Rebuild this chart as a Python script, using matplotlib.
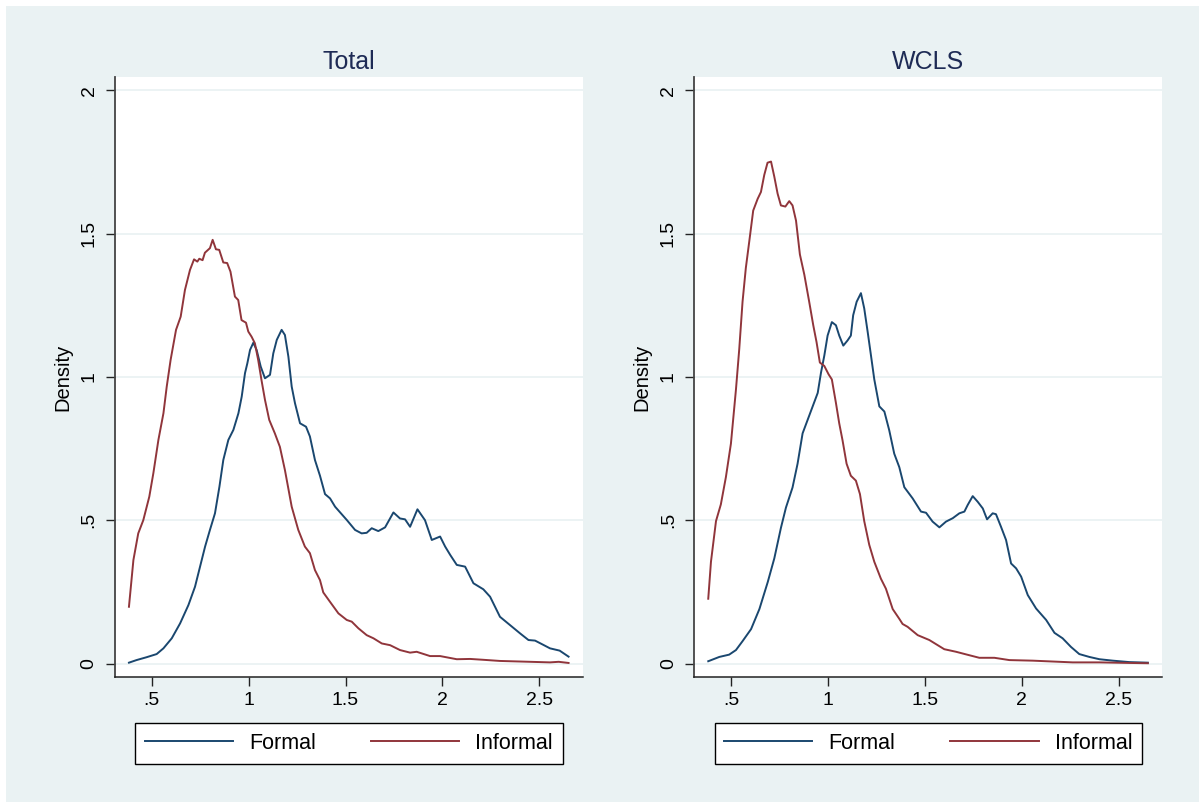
import matplotlib

matplotlib.use("Agg")
import matplotlib.pyplot as plt
from matplotlib.patches import Rectangle

# Kernel density curves (x = log wage ratio-ish, y = density)
total_formal_x = [0.382, 0.421, 0.473, 0.525, 0.560, 0.603, 0.646, 0.689, 0.723, 0.749,
                  0.775, 0.800, 0.826, 0.849, 0.869, 0.895, 0.921, 0.947, 0.964, 0.981,
                  0.993, 1.007, 1.024, 1.041, 1.062, 1.084, 1.110, 1.127, 1.145, 1.170,
                  1.187, 1.205, 1.222, 1.239, 1.265, 1.296, 1.316, 1.342, 1.368, 1.394,
                  1.420, 1.446, 1.506, 1.549, 1.583, 1.609, 1.635, 1.669, 1.704, 1.747,
                  1.781, 1.807, 1.833, 1.871, 1.910, 1.945, 1.988, 2.014, 2.040, 2.074,
                  2.117, 2.160, 2.211, 2.246, 2.297, 2.349, 2.401, 2.444, 2.478, 2.521,
                  2.555, 2.605, 2.651]
total_formal_y = [0.003, 0.012, 0.022, 0.033, 0.053, 0.088, 0.140, 0.204, 0.268, 0.338,
                  0.408, 0.466, 0.524, 0.617, 0.710, 0.780, 0.815, 0.873, 0.931, 1.013,
                  1.047, 1.094, 1.119, 1.094, 1.036, 0.995, 1.007, 1.082, 1.129, 1.164,
                  1.146, 1.070, 0.966, 0.908, 0.838, 0.826, 0.792, 0.710, 0.655, 0.591,
                  0.576, 0.547, 0.501, 0.466, 0.454, 0.456, 0.472, 0.462, 0.475, 0.527,
                  0.506, 0.503, 0.477, 0.538, 0.500, 0.431, 0.443, 0.408, 0.379, 0.344,
                  0.338, 0.280, 0.259, 0.233, 0.163, 0.134, 0.105, 0.082, 0.080, 0.065,
                  0.053, 0.045, 0.024]

total_informal_x = [0.382, 0.405, 0.430, 0.456, 0.487, 0.508, 0.534, 0.560, 0.577, 0.597,
                    0.625, 0.649, 0.671, 0.697, 0.718, 0.735, 0.745, 0.762, 0.774, 0.800,
                    0.814, 0.831, 0.848, 0.869, 0.889, 0.906, 0.929, 0.946, 0.963, 0.986,
                    0.998, 1.015, 1.032, 1.049, 1.066, 1.084, 1.106, 1.135, 1.161, 1.187,
                    1.222, 1.256, 1.290, 1.316, 1.342, 1.368, 1.385, 1.420, 1.463, 1.506,
                    1.532, 1.566, 1.609, 1.644, 1.687, 1.730, 1.781, 1.833, 1.867, 1.936,
                    1.988, 2.074, 2.143, 2.211, 2.297, 2.401, 2.555, 2.600, 2.651]
total_informal_y = [0.198, 0.361, 0.454, 0.500, 0.582, 0.664, 0.780, 0.873, 0.966, 1.059,
                    1.164, 1.210, 1.303, 1.373, 1.410, 1.402, 1.412, 1.407, 1.433, 1.449,
                    1.478, 1.445, 1.443, 1.399, 1.397, 1.367, 1.280, 1.268, 1.198, 1.189,
                    1.158, 1.140, 1.117, 1.059, 0.989, 0.920, 0.850, 0.803, 0.756, 0.675,
                    0.547, 0.466, 0.408, 0.385, 0.326, 0.291, 0.248, 0.215, 0.175, 0.152,
                    0.146, 0.123, 0.099, 0.088, 0.070, 0.064, 0.047, 0.038, 0.041, 0.026,
                    0.026, 0.015, 0.016, 0.013, 0.009, 0.007, 0.004, 0.006, 0.002]

wcls_formal_x = [0.382, 0.439, 0.490, 0.525, 0.559, 0.603, 0.646, 0.689, 0.723, 0.757,
                 0.783, 0.817, 0.843, 0.869, 0.895, 0.921, 0.947, 0.964, 0.981, 0.998,
                 1.020, 1.041, 1.058, 1.079, 1.101, 1.118, 1.130, 1.148, 1.170, 1.187,
                 1.205, 1.222, 1.239, 1.265, 1.291, 1.316, 1.342, 1.368, 1.394, 1.437,
                 1.480, 1.506, 1.540, 1.575, 1.609, 1.644, 1.678, 1.704, 1.721, 1.747,
                 1.773, 1.799, 1.821, 1.850, 1.867, 1.893, 1.919, 1.945, 1.971, 1.997,
                 2.031, 2.074, 2.126, 2.169, 2.211, 2.254, 2.297, 2.349, 2.401, 2.470,
                 2.555, 2.651]
wcls_formal_y = [0.008, 0.023, 0.031, 0.047, 0.078, 0.120, 0.190, 0.284, 0.367, 0.473,
                 0.544, 0.614, 0.697, 0.803, 0.850, 0.897, 0.944, 1.015, 1.074, 1.144,
                 1.191, 1.180, 1.144, 1.109, 1.127, 1.144, 1.215, 1.262, 1.292, 1.239,
                 1.156, 1.074, 0.991, 0.897, 0.879, 0.814, 0.732, 0.685, 0.615, 0.576,
                 0.530, 0.526, 0.495, 0.475, 0.495, 0.507, 0.524, 0.530, 0.553, 0.584,
                 0.564, 0.541, 0.503, 0.524, 0.521, 0.477, 0.431, 0.349, 0.332, 0.303,
                 0.239, 0.192, 0.152, 0.107, 0.088, 0.058, 0.033, 0.023, 0.015, 0.010,
                 0.005, 0.003]

wcls_informal_x = [0.382, 0.396, 0.422, 0.447, 0.473, 0.499, 0.525, 0.542, 0.559, 0.576,
                   0.594, 0.614, 0.637, 0.654, 0.671, 0.688, 0.706, 0.723, 0.740, 0.757,
                   0.780, 0.800, 0.817, 0.835, 0.855, 0.878, 0.903, 0.924, 0.941, 0.958,
                   0.981, 1.003, 1.020, 1.041, 1.058, 1.075, 1.096, 1.118, 1.144, 1.165,
                   1.187, 1.213, 1.239, 1.273, 1.299, 1.334, 1.368, 1.385, 1.411, 1.463,
                   1.523, 1.600, 1.661, 1.712, 1.781, 1.859, 1.936, 2.057, 2.160, 2.263,
                   2.401, 2.555, 2.651]
wcls_informal_y = [0.226, 0.355, 0.497, 0.555, 0.650, 0.767, 0.956, 1.097, 1.262, 1.380,
                   1.474, 1.580, 1.621, 1.645, 1.704, 1.747, 1.751, 1.698, 1.639, 1.598,
                   1.594, 1.613, 1.598, 1.545, 1.427, 1.356, 1.262, 1.180, 1.121, 1.050,
                   1.038, 1.009, 0.991, 0.909, 0.838, 0.779, 0.697, 0.655, 0.638, 0.591,
                   0.497, 0.414, 0.355, 0.296, 0.261, 0.190, 0.156, 0.138, 0.128, 0.099,
                   0.082, 0.050, 0.041, 0.032, 0.020, 0.020, 0.012, 0.010, 0.007, 0.004,
                   0.004, 0.002, 0.001]

panel_titles = ["Total", "WCLS"]
series_labels = ["Formal", "Informal"]
x_ticks = [0.5, 1.0, 1.5, 2.0, 2.5]
x_tick_labels = [".5", "1", "1.5", "2", "2.5"]
y_ticks = [0.0, 0.5, 1.0, 1.5, 2.0]
y_tick_labels = ["0", ".5", "1", "1.5", "2"]

BG = "#EAF2F3"
NAVY = "#1A476F"
MAROON = "#90353B"
TITLE_COLOR = "#1E2B55"

plt.rcParams["font.family"] = ["Liberation Sans", "DejaVu Sans"]

W, H = 1199, 802
fig = plt.figure(figsize=(W / 100, H / 100), dpi=100)
fig.patch.set_facecolor("white")
fig.add_artist(Rectangle((6 / W, 0), 1, 1 - 6 / H, transform=fig.transFigure,
                         facecolor=BG, edgecolor="none", zorder=-10))

panels = [
    (panel_titles[0], total_formal_x, total_formal_y, total_informal_x, total_informal_y, 115),
    (panel_titles[1], wcls_formal_x, wcls_formal_y, wcls_informal_x, wcls_informal_y, 694.3),
]

# plot region in pixels: width, bottom edge, top edge
ax_w, ax_bottom, ax_top = 468, 677, 77
for title, fx, fy, ix, iy, left_px in panels:
    ax = fig.add_axes([left_px / W, 1 - ax_bottom / H, ax_w / W, (ax_bottom - ax_top) / H])
    ax.set_facecolor("white")
    ax.plot(fx, fy, color=NAVY, lw=1.4, label=series_labels[0], zorder=3)
    ax.plot(ix, iy, color=MAROON, lw=1.4, label=series_labels[1], zorder=3)

    ax.set_xlim(0.310, 2.7255)
    ax.set_ylim(-0.047, 2.046)
    ax.set_xticks(x_ticks)
    ax.set_xticklabels(x_tick_labels)
    ax.set_yticks(y_ticks)
    ax.set_yticklabels(y_tick_labels, rotation=90, va="center")
    ax.yaxis.grid(True, color=BG, lw=1.3, zorder=0)
    ax.set_axisbelow(True)

    for side in ["top", "right"]:
        ax.spines[side].set_visible(False)
    ax.spines["left"].set_color("#444444")
    ax.spines["left"].set_linewidth(1.3)
    ax.spines["bottom"].set_color("#222222")
    ax.spines["bottom"].set_linewidth(1.1)

    ax.tick_params(axis="both", length=6.5, width=1, color="#222222", labelsize=14)
    ax.tick_params(axis="y", pad=6)
    ax.tick_params(axis="x", pad=4)

    ax.set_title(title, fontsize=18, color=TITLE_COLOR, pad=6)
    ax.set_ylabel("Density", fontsize=14.5)
    ax.yaxis.label.set_va("center")
    ax.yaxis.set_label_coords(-52 / ax_w, 0.5)

    cx = (left_px + ax_w / 2) / W
    leg = ax.legend(loc="center", bbox_to_anchor=(cx, 1 - 743.5 / H),
                    bbox_transform=fig.transFigure, ncol=2, fontsize=15.5,
                    frameon=True, fancybox=False, edgecolor="black", framealpha=1,
                    handlelength=4.1, handletextpad=0.75, columnspacing=2.55,
                    borderpad=0.45)
    leg.get_frame().set_linewidth(1.0)

fig.savefig("out.png", dpi=100, facecolor=fig.get_facecolor())
